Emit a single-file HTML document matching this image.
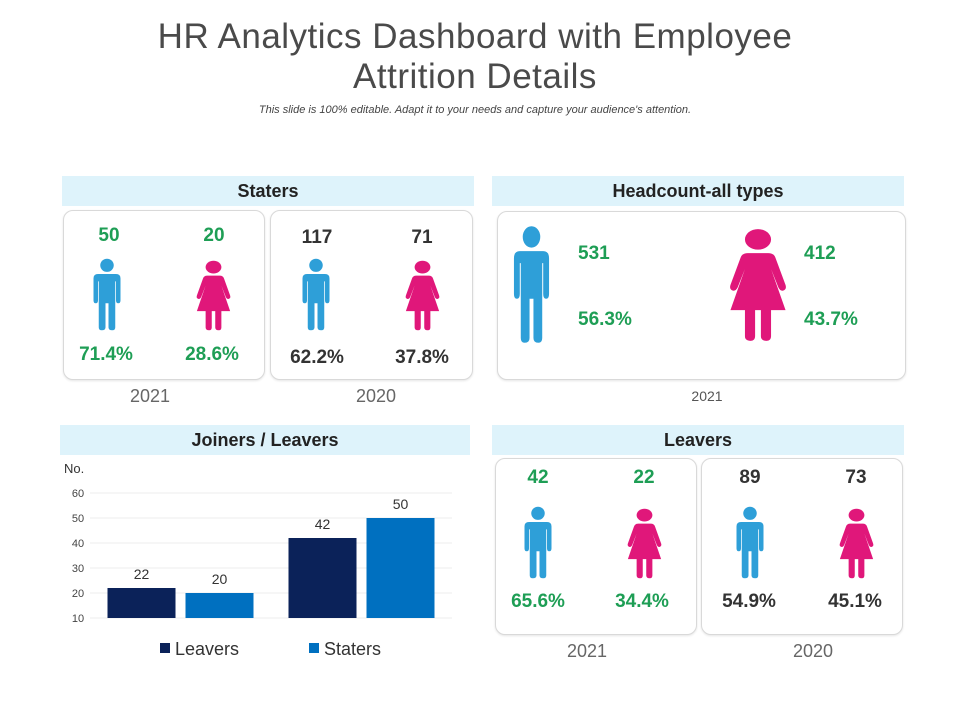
<!DOCTYPE html>
<html><head><meta charset="utf-8">
<style>
body{margin:0;background:#fff;font-family:"Liberation Sans",sans-serif;}
#root{position:relative;width:960px;height:720px;overflow:hidden;}
.a{position:absolute;}
.t{position:absolute;transform:translateX(-50%);white-space:nowrap;}
.hdr{position:absolute;background:#def3fb;font-weight:bold;font-size:18px;color:#222;text-align:center;line-height:30px;height:30px;}
.box{position:absolute;border:1px solid #d9d9d9;border-radius:10px;box-shadow:0 1px 2px #e5e5e5;background:#fff;}
.g{color:#1e9e55;font-weight:bold;}
.k{color:#333;font-weight:bold;}
.yr{color:#666;font-size:18px;}
svg.ic{position:absolute;}
</style></head><body>
<div id="root">
<svg width="0" height="0" style="position:absolute">
<defs>
<g id="male"><ellipse cx="20" cy="10" rx="9" ry="9" fill="#2e9fd8"/><path d="M8 22 H32 Q38 22 38 28 V58 Q38 62 35 62 Q32 62 32 58 V32 H31 V95 Q31 99 27 99 Q22 99 22 95 V62 H18 V95 Q18 99 13 99 Q9 99 9 95 V32 H8 V58 Q8 62 5 62 Q2 62 2 58 V28 Q2 22 8 22Z" fill="#2e9fd8"/></g>
<g id="female"><circle cx="20" cy="10" r="9" fill="#e0177a"/><path d="M13 22 H27 Q31 22 32 26 L39 50 Q40 54 37 55 Q35 55 34 52 L29 36 L39 72 H29 V95 Q29 99 26 99 Q22 99 22 95 V72 H18 V95 Q18 99 15 99 Q11 99 11 95 V72 H1 L11 36 L6 52 Q5 55 3 55 Q0 54 1 50 L8 26 Q9 22 13 22Z" fill="#e0177a"/></g>
</defs></svg>

<div class="t" style="left:475px;top:17px;font-size:35px;color:#4a4a4a;text-align:center;line-height:40px;letter-spacing:0.5px;">HR Analytics Dashboard with Employee<br>Attrition Details</div>
<div class="t" style="left:475px;top:104px;font-size:11px;font-style:italic;color:#444;">This slide is 100% editable. Adapt it to your needs and capture your audience's attention.</div>

<div class="hdr" style="left:62px;top:176px;width:412px;">Staters</div>
<div class="box" style="left:63px;top:210px;width:200px;height:168px;"></div>
<div class="box" style="left:270px;top:210px;width:201px;height:168px;"></div>
<div class="t g" style="left:109px;top:225px;font-size:19px;">50</div>
<div class="t g" style="left:214px;top:225px;font-size:19px;">20</div>
<div class="t k" style="left:317px;top:227px;font-size:19px;">117</div>
<div class="t k" style="left:422px;top:227px;font-size:19px;">71</div>
<svg class="ic" style="left:92px;top:258px" width="30" height="73" viewBox="0 0 40 100" preserveAspectRatio="none"><use href="#male"/></svg>
<svg class="ic" style="left:196px;top:260px" width="35" height="71" viewBox="0 0 40 100" preserveAspectRatio="none"><use href="#female"/></svg>
<svg class="ic" style="left:301px;top:258px" width="30" height="73" viewBox="0 0 40 100" preserveAspectRatio="none"><use href="#male"/></svg>
<svg class="ic" style="left:405px;top:260px" width="35" height="71" viewBox="0 0 40 100" preserveAspectRatio="none"><use href="#female"/></svg>
<div class="t g" style="left:106px;top:344px;font-size:19px;">71.4%</div>
<div class="t g" style="left:212px;top:344px;font-size:19px;">28.6%</div>
<div class="t k" style="left:317px;top:347px;font-size:19px;">62.2%</div>
<div class="t k" style="left:422px;top:347px;font-size:19px;">37.8%</div>
<div class="t yr" style="left:150px;top:386px;">2021</div>
<div class="t yr" style="left:376px;top:386px;">2020</div>

<div class="hdr" style="left:492px;top:176px;width:412px;">Headcount-all types</div>
<div class="box" style="left:497px;top:211px;width:407px;height:167px;"></div>
<svg class="ic" style="left:512px;top:225px" width="39" height="119" viewBox="0 0 40 100" preserveAspectRatio="none"><use href="#male"/></svg>
<svg class="ic" style="left:729px;top:228px" width="58" height="114" viewBox="0 0 40 100" preserveAspectRatio="none"><use href="#female"/></svg>
<div class="a g" style="left:578px;top:243px;font-size:19px;">531</div>
<div class="a g" style="left:578px;top:309px;font-size:19px;">56.3%</div>
<div class="a g" style="left:804px;top:243px;font-size:19px;">412</div>
<div class="a g" style="left:804px;top:309px;font-size:19px;">43.7%</div>
<div class="t" style="left:707px;top:388px;font-size:14px;color:#555;">2021</div>

<div class="hdr" style="left:60px;top:425px;width:410px;">Joiners / Leavers</div>
<svg class="a" id="chart" style="left:0;top:0" width="480" height="680"></svg>

<div class="hdr" style="left:492px;top:425px;width:412px;">Leavers</div>
<div class="box" style="left:495px;top:458px;width:200px;height:175px;"></div>
<div class="box" style="left:701px;top:458px;width:200px;height:175px;"></div>
<div class="t g" style="left:538px;top:467px;font-size:19px;">42</div>
<div class="t g" style="left:644px;top:467px;font-size:19px;">22</div>
<div class="t k" style="left:750px;top:467px;font-size:19px;">89</div>
<div class="t k" style="left:856px;top:467px;font-size:19px;">73</div>
<svg class="ic" style="left:523px;top:506px" width="30" height="73" viewBox="0 0 40 100" preserveAspectRatio="none"><use href="#male"/></svg>
<svg class="ic" style="left:627px;top:508px" width="35" height="71" viewBox="0 0 40 100" preserveAspectRatio="none"><use href="#female"/></svg>
<svg class="ic" style="left:735px;top:506px" width="30" height="73" viewBox="0 0 40 100" preserveAspectRatio="none"><use href="#male"/></svg>
<svg class="ic" style="left:839px;top:508px" width="35" height="71" viewBox="0 0 40 100" preserveAspectRatio="none"><use href="#female"/></svg>
<div class="t g" style="left:538px;top:591px;font-size:19px;">65.6%</div>
<div class="t g" style="left:642px;top:591px;font-size:19px;">34.4%</div>
<div class="t k" style="left:749px;top:591px;font-size:19px;">54.9%</div>
<div class="t k" style="left:855px;top:591px;font-size:19px;">45.1%</div>
<div class="t yr" style="left:587px;top:641px;">2021</div>
<div class="t yr" style="left:813px;top:641px;">2020</div>
</div>
<script>
const groups = ["A","B"];
const leavers = [22, 42];
const staters = [20, 50];
const yTicks = [10, 20, 30, 40, 50, 60];
const NS = "http://www.w3.org/2000/svg";
const svg = document.getElementById('chart');
const x0 = 90, x1 = 452, yMin = 10, yMax = 60, yBot = 618, yTop = 493;
const y = v => yBot - (v - yMin) / (yMax - yMin) * (yBot - yTop);
const gw = (x1 - x0) / groups.length;
function mk(tag, attrs, txt){const e=document.createElementNS(NS,tag);for(const k in attrs)e.setAttribute(k,attrs[k]);if(txt!==undefined)e.textContent=txt;svg.appendChild(e);return e;}
let e = mk('text',{x:64,y:473,'font-size':13,fill:'#333'},'No.');


yTicks.forEach(t=>{
  const l = mk('line',{x1:x0,x2:x1,y1:y(t),y2:y(t),stroke:'#ececec','stroke-width':1});
  
  
  const tx = mk('text',{x:78,y:y(t)+4,'font-size':11,fill:'#444','text-anchor':'middle'},t);
  
  
});
const bw = 68, gap = 10;
groups.forEach((g,i)=>{
  const c = x0 + gw*i + gw/2;
  [[leavers[i],'#0b2259',c-gap/2-bw],[staters[i],'#0070c0',c+gap/2]].forEach(([v,col,bx],j)=>{
    const r = mk('rect',{x:bx,y:y(v),width:bw,height:yBot-y(v),fill:col});
    
    
    const t = mk('text',{x:bx+bw/2,y:y(v)-9,'font-size':14,fill:'#333','text-anchor':'middle'},v);
    
    
  });
});
[['Leavers','#0b2259',160],['Staters','#0070c0',309]].forEach(([n,col,lx])=>{
  const r = mk('rect',{x:lx,y:643,width:10,height:10,fill:col});
  
  
  const t = mk('text',{x:lx+15,y:655,'font-size':18,fill:'#333'},n);
  
  
});
</script>
</body></html>
